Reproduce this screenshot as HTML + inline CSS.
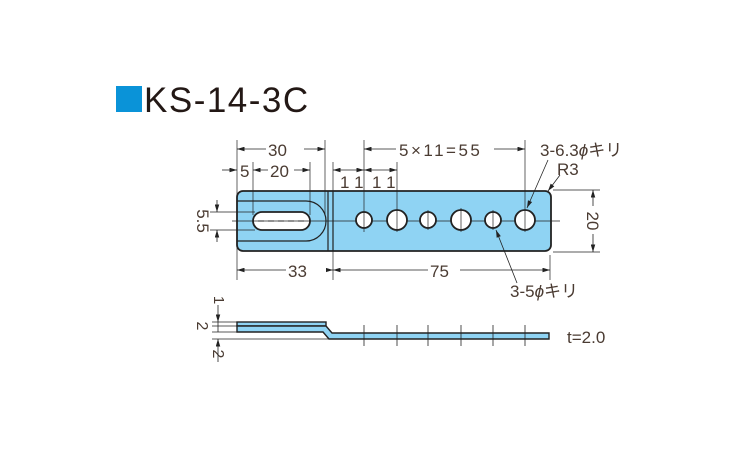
<!DOCTYPE html>
<html><head><meta charset="utf-8"><style>
body{margin:0;background:#fff;width:750px;height:450px;overflow:hidden}
svg{display:block}
text{font-family:"Liberation Sans","Noto Sans CJK JP",sans-serif;fill:#4a3b32}
</style></head><body>
<svg width="750" height="450" viewBox="0 0 750 450" xmlns="http://www.w3.org/2000/svg">
<defs>
<marker id="a" viewBox="0 0 10 6" refX="10" refY="3" markerWidth="8" markerHeight="4.5" orient="auto-start-reverse" markerUnits="userSpaceOnUse"><path d="M0,0L10,3L0,6z" fill="#222"/></marker>
</defs>
<rect x="116" y="86" width="26" height="26" fill="#0a93d8"/>
<text x="144" y="112" font-size="35" letter-spacing="1.5" style="fill:#231815">KS-14-3C</text>

<path d="M243,191H545a6,6 0 0 1 6,6V245a6,6 0 0 1-6,6H243a6,6 0 0 1-6-6V197a6,6 0 0 1 6-6z" fill="#8fd3f3" stroke="#222" stroke-width="1.8"/>
<line x1="328" y1="191" x2="328" y2="251" stroke="#222" stroke-width="1.2"/>
<line x1="333" y1="191" x2="333" y2="251" stroke="#222" stroke-width="1.2"/>
<path d="M237,201H306a20,20 0 0 1 0,40H237" fill="none" stroke="#222" stroke-width="1.2"/>
<rect x="253" y="212" width="57" height="18" rx="9" fill="#fff" stroke="#222" stroke-width="1.8"/>
<line x1="232" y1="221" x2="560" y2="221" stroke="#222" stroke-width="0.7"/>
<line x1="258" y1="221" x2="306" y2="221" stroke="#222" stroke-width="1" stroke-dasharray="6,4"/>
<g fill="#fff" stroke="#222" stroke-width="1.8">
<circle cx="364" cy="220" r="8"/><circle cx="397" cy="220" r="10"/><circle cx="428" cy="220" r="8"/>
<circle cx="461" cy="220" r="10"/><circle cx="493" cy="220" r="8"/><circle cx="525" cy="220" r="10"/>
</g>
<g stroke="#222" stroke-width="0.7">
<line x1="364" y1="140" x2="364" y2="232"/><line x1="397" y1="162" x2="397" y2="232"/>
<line x1="428" y1="210" x2="428" y2="230"/><line x1="461" y1="208" x2="461" y2="232"/>
<line x1="493" y1="210" x2="493" y2="230"/><line x1="525" y1="140" x2="525" y2="232"/>
<line x1="237" y1="140" x2="237" y2="280"/><line x1="325" y1="140" x2="325" y2="215"/>
<line x1="253" y1="162" x2="253" y2="215"/><line x1="310" y1="162" x2="310" y2="215"/>
<line x1="333" y1="162" x2="333" y2="280"/><line x1="550" y1="255" x2="550" y2="280"/>
<line x1="553" y1="190" x2="600" y2="190"/><line x1="553" y1="252" x2="600" y2="252"/>
<line x1="210" y1="212" x2="255" y2="212"/><line x1="210" y1="230" x2="255" y2="230"/>
</g>
<g stroke="#222" stroke-width="0.8" marker-start="url(#a)" marker-end="url(#a)">
<line x1="237" y1="149" x2="325" y2="149"/>
<line x1="364" y1="149" x2="525" y2="149"/>
<line x1="253" y1="170" x2="310" y2="170"/>
<line x1="333" y1="170" x2="364" y2="170"/>
<line x1="364" y1="170" x2="397" y2="170"/>
<line x1="237" y1="270" x2="333" y2="270"/>
<line x1="333" y1="270" x2="550" y2="270"/>
<line x1="593" y1="190" x2="593" y2="252"/>
</g>
<g stroke="#222" stroke-width="0.8">
<line x1="222" y1="170" x2="237" y2="170" marker-end="url(#a)"/>
<line x1="217" y1="200" x2="217" y2="212" marker-end="url(#a)"/>
<line x1="217" y1="242" x2="217" y2="230" marker-end="url(#a)"/>
<line x1="548" y1="160" x2="527" y2="208" marker-end="url(#a)"/>
<line x1="560" y1="175" x2="548" y2="191" marker-end="url(#a)"/>
<line x1="517" y1="283" x2="496" y2="230" marker-end="url(#a)"/>
</g>
<g font-size="17">
<rect x="266" y="140" width="38" height="18" fill="#fff"/><text x="268" y="156">30</text>
<rect x="396" y="140" width="98" height="18" fill="#fff"/><text x="399" y="156" letter-spacing="2.5">5×11=55</text>
<rect x="240" y="161" width="12" height="18" fill="#fff"/><text x="240" y="177">5</text>
<rect x="268" y="161" width="26" height="18" fill="#fff"/><text x="270" y="177">20</text>
<text x="340" y="188">1 1</text><text x="372" y="188">1 1</text>
<rect x="286" y="261" width="40" height="18" fill="#fff"/><text x="288" y="277">33</text>
<rect x="428" y="261" width="32" height="18" fill="#fff"/><text x="430" y="277">75</text>
<text x="540" y="156">3-6.3<tspan font-style="italic">ϕ</tspan>キリ</text>
<text x="557" y="175">R3</text>
<text x="510" y="297">3-5<tspan font-style="italic">ϕ</tspan>キリ</text>
<rect x="585" y="206" width="16" height="28" fill="#fff"/>
<text transform="translate(587,221) rotate(90)" text-anchor="middle">20</text>
<text transform="translate(197,221) rotate(90)" text-anchor="middle">5.5</text>
<text x="567" y="343">t=2.0</text>
<text transform="translate(214,300) rotate(90)" text-anchor="middle" font-size="15">1</text>
<text transform="translate(197,326) rotate(90)" text-anchor="middle" font-size="16">2</text>
<text transform="translate(213,354) rotate(90)" text-anchor="middle" font-size="16">2</text>
</g>
<g stroke="#222" stroke-width="0.7">
<line x1="212" y1="322" x2="237" y2="322"/><line x1="212" y1="326" x2="237" y2="326"/>
<line x1="212" y1="332" x2="237" y2="332"/><line x1="212" y1="339" x2="330" y2="339"/>
</g>
<g stroke="#222" stroke-width="0.8">
<line x1="218" y1="305" x2="218" y2="322" marker-end="url(#a)"/>
<line x1="218" y1="322" x2="218" y2="332"/>
<line x1="218" y1="362" x2="218" y2="339" marker-end="url(#a)"/>
</g>
<rect x="237" y="322" width="89" height="4" fill="#8fd3f3" stroke="#222" stroke-width="1.4"/>
<path d="M237,326H326L332,333H549V339H329L323,332H237z" fill="#8fd3f3" stroke="#222" stroke-width="1.4"/>
<g stroke="#222" stroke-width="0.8">
<line x1="364" y1="325" x2="364" y2="346"/><line x1="397" y1="325" x2="397" y2="346"/>
<line x1="428" y1="325" x2="428" y2="346"/><line x1="461" y1="325" x2="461" y2="346"/>
<line x1="493" y1="325" x2="493" y2="346"/><line x1="525" y1="325" x2="525" y2="346"/>
</g>
</svg>
</body></html>
